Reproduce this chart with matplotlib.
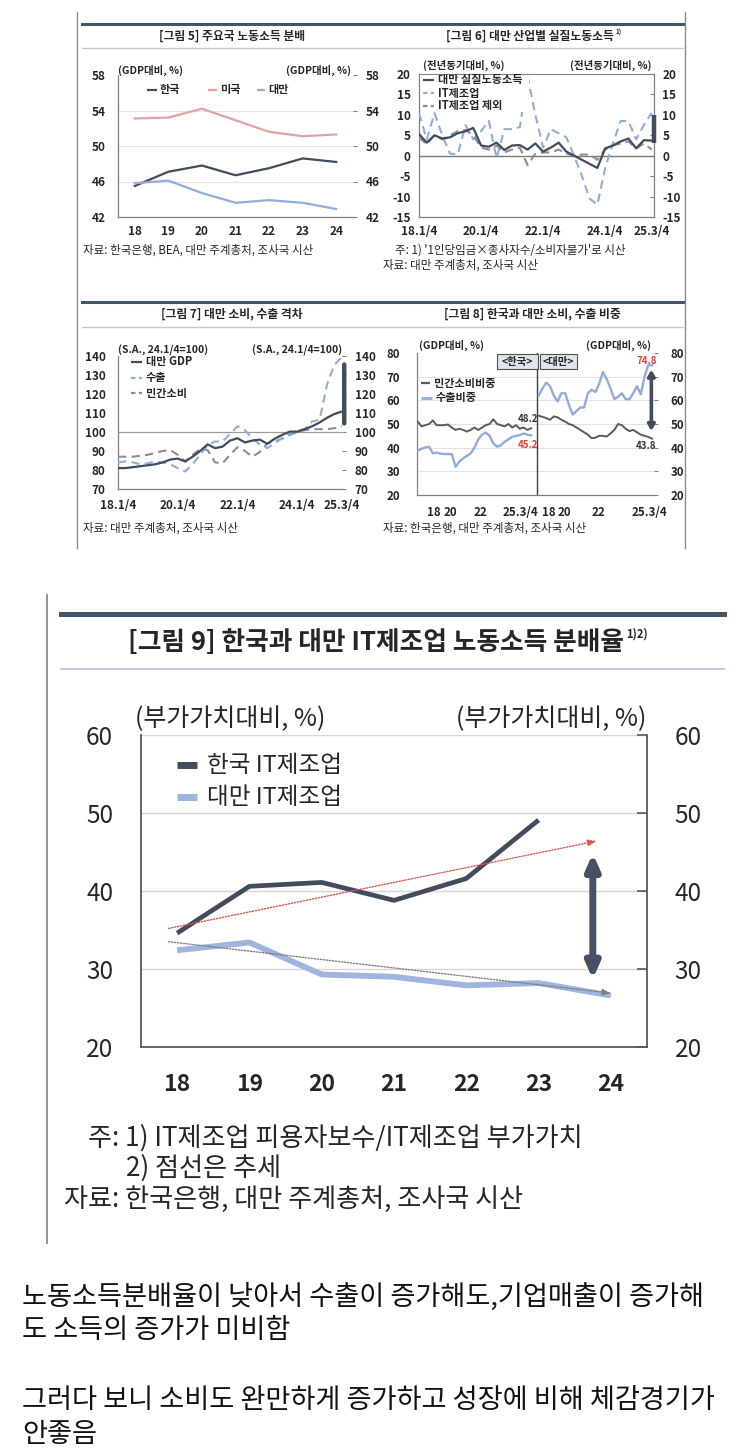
import matplotlib
matplotlib.use('Agg')
import matplotlib.pyplot as plt
from matplotlib.lines import Line2D
from matplotlib.patches import Rectangle
import numpy as np

plt.rcParams['font.family'] = ['Noto Sans CJK KR', 'DejaVu Sans']
plt.rcParams['axes.unicode_minus'] = False

# ---------------- data ----------------
years5 = ['18', '19', '20', '21', '22', '23', '24']
f5_korea = [45.5, 47.1, 47.8, 46.7, 47.5, 48.6, 48.2]
f5_usa = [53.1, 53.2, 54.2, 52.9, 51.6, 51.1, 51.3]
f5_taiwan = [45.8, 46.1, 44.7, 43.6, 43.9, 43.6, 42.9]

quarters = [f"{y}.{q}/4" for y in range(18, 26) for q in range(1, 5)][:31]
qtick_labels = ['18.1/4', '20.1/4', '22.1/4', '24.1/4', '25.3/4']

f6_total = [5.3, 3.2, 5.0, 4.2, 4.5, 5.5, 6.0, 6.8, 2.5, 2.2, 3.2, 1.4, 2.5, 2.6, 1.5, 3.0,
            1.0, 2.0, 3.2, 1.0, 0.0, -1.0, -2.0, -3.0, 1.8, 2.5, 3.5, 4.2, 1.8, 3.8, 3.7]
f6_it = [10.4, 4.0, 10.4, 5.0, 0.5, 0.3, 7.5, 4.0, 6.0, 8.5, -0.6, 6.5, 6.5, 7.0, 19.5, 10.0,
         2.0, 6.5, 5.5, 4.5, 0.0, -5.0, -10.5, -12.0, -3.0, 3.0, 8.5, 8.5, 4.0, 7.5, 10.5]
f6_exit = [4.5, 2.8, 5.0, 4.0, 5.0, 6.0, 6.3, 5.0, 2.0, 1.5, 2.5, 0.8, 1.5, 2.0, -2.3, 0.5,
           0.8, 0.8, 1.5, 0.5, 0.0, 0.3, 0.3, -1.0, 1.5, 2.5, 3.0, 3.5, 1.8, 3.0, 1.5]
f6_gap = [3.0, 10.0]

f7_gdp = [81, 81, 81.5, 82, 82.5, 83, 84, 85.5, 86, 84.5, 87, 90, 93.5, 91.5, 92.3, 95.5,
          96.7, 94.5, 95.5, 96, 93.8, 96.5, 98.5, 100.2, 100.2, 101.5, 103, 105, 107.5, 109.5, 110.8]
f7_export = [84, 84.5, 84, 83, 83.5, 84.5, 84, 83, 81, 79.2, 83, 88, 93, 95, 95, 99,
             103, 101, 96.5, 93.5, 91.5, 94, 97, 99.5, 100.5, 101.5, 105.5, 106.5, 125, 135.5, 139.5]
f7_cons = [87, 87, 87, 87.5, 88, 89, 90, 90.5, 88, 84.5, 88, 91, 90.5, 84, 83.5, 88,
           92, 90, 87, 89.5, 94, 95, 96.5, 98.5, 100, 101, 101.5, 101.5, 101.5, 102, 103]
f7_gap = [104.5, 135.5]

f8_kr_cons = [51, 49, 49.5, 50, 51.5, 49.5, 49.5, 49.5, 49.8, 48.5, 47.5, 48, 47.5, 46.8, 47.5, 48.5,
              47.5, 48.5, 49.5, 50, 52, 50, 49.5, 49, 50, 48.5, 49.5, 48, 48.5, 47.5, 48.2]
f8_kr_exp = [38.7, 39.5, 40.1, 40.4, 37.6, 37.9, 37.5, 37.3, 37.3, 37.3, 31.9, 34.1, 35.5, 36.5, 37.6, 40,
             43.5, 45.5, 46.4, 45, 41.8, 40.4, 41, 42.5, 43.5, 44.6, 45, 45.3, 46, 45.5, 45.2]
f8_tw_cons = [53.5, 53, 52.5, 51.8, 53.2, 52.8, 51.8, 51, 50, 49.5, 48.5, 47.5, 46.5, 45.5, 44, 44.2,
              45, 45, 44.7, 46, 47.5, 50, 49.5, 48, 47, 47.5, 46.5, 45.5, 45, 44.5, 43.8]
f8_tw_exp = [62, 65, 67.5, 66, 62, 59.5, 63, 63, 58, 54, 55.5, 57, 57, 63, 64.5, 63.5,
             67, 72, 69, 65, 60.5, 61.5, 63, 60.5, 60.5, 63, 66, 62.5, 70, 75, 74.8]
f8_tick_labels = ['18', '20', '22', '25.3/4', '18', '20', '22', '25.3/4']
f8_gap = [47, 73]

years9 = ['18', '19', '20', '21', '22', '23', '24']
f9_korea = [34.6, 40.6, 41.1, 38.8, 41.6, 49.1]
f9_taiwan = [32.4, 33.4, 29.3, 29.0, 27.9, 28.2, 26.6]
f9_korea_trend = [35.2, 46.4]
f9_taiwan_trend = [33.5, 26.9]
f9_gap = [28.7, 44.8]

# ---------------- style ----------------
DARK = '#424c5c'
LBLUE = '#93acdb'
PINK = '#e4a3a3'
GRAYD = '#8a8e96'
NAVY = '#44546a'
RED = '#e03c3c'
TXT = '#262626'

W, H = 743, 1456
fig = plt.figure(figsize=(W / 100, H / 100), dpi=100)
fig.patch.set_facecolor('white')


def rect(x0, y0, x1, y1):
    return [x0 / W, 1 - y1 / H, (x1 - x0) / W, (y1 - y0) / H]


def T(x, y, s, **kw):
    kw.setdefault('va', 'center')
    kw.setdefault('color', TXT)
    kw.setdefault('zorder', 5)
    return fig.text(x / W, 1 - y / H, s, **kw)


def L(xs, ys, **kw):
    kw.setdefault('zorder', 4)
    ln = Line2D([x / W for x in xs], [1 - y / H for y in ys], transform=fig.transFigure, **kw)
    fig.add_artist(ln)
    return ln


def leg(x0, x1, y, xt, text, color, ls='-', lw=1.6, fs=8, weight='bold'):
    L([x0, x1], [y, y], color=color, lw=lw, ls=ls, solid_capstyle='butt')
    T(xt, y, text, fontsize=fs, ha='left', fontweight=weight)


def style_small(ax, lpad, rpad, xpad, fs=8.5):
    ax.spines['top'].set_visible(False)
    for s in ['left', 'bottom', 'right']:
        ax.spines[s].set_color('#808080')
        ax.spines[s].set_linewidth(0.9)
    ax.tick_params(axis='y', left=False, right=True, direction='in', length=3, color='#808080',
                   labelleft=True, labelright=True, labelsize=fs, pad=lpad, labelcolor=TXT)
    ax.tick_params(axis='x', length=0, labelsize=fs, pad=xpad, labelcolor=TXT)
    for lab in ax.get_xticklabels() + ax.get_yticklabels():
        lab.set_fontweight('bold')
    ax.set_facecolor('none')


# ---------------- top frame ----------------
L([77, 77], [12, 548], color='#8c8c8c', lw=1)
L([685, 685], [12, 548], color='#8c8c8c', lw=1)
for yt, yb in [(24, 48), (302, 327)]:
    L([82, 683], [yt, yt], color=NAVY, lw=2.2)
    L([82, 683], [yb, yb], color='#c3c9d2', lw=1)

T(232, 36, '[그림 5] 주요국 노동소득 분배', ha='center', fontsize=8.5, fontweight='bold')
T(530, 36, '[그림 6] 대만 산업별 실질노동소득', ha='center', fontsize=8.5, fontweight='bold')
T(615, 32, '1)', ha='left', fontsize=4.5, fontweight='bold')
T(232, 314, '[그림 7] 대만 소비, 수출 격차', ha='center', fontsize=8.5, fontweight='bold')
T(532, 314, '[그림 8] 한국과 대만 소비, 수출 비중', ha='center', fontsize=8.5, fontweight='bold')

# ---------------- Fig 5 ----------------
ax5 = fig.add_axes(rect(118, 75, 353, 217))
ax5.plot(years5, f5_korea, color=DARK, lw=1.6, zorder=3)
ax5.plot(years5, f5_usa, color=PINK, lw=1.6, zorder=3)
ax5.plot(years5, f5_taiwan, color=LBLUE, lw=1.6, zorder=3)
ax5.set_xlim(-0.5, 6.5)
ax5.set_ylim(42, 58)
ax5.set_yticks([42, 46, 50, 54, 58])
for v in [46, 50, 54]:
    ax5.axhline(v, color='#e3e3e3', lw=0.8, zorder=1)
style_small(ax5, 9, 9, 6)
ax5.spines['right'].set_visible(False)
ax5.tick_params(axis='y', right=True, direction='out', length=3, pad=6)
T(118, 70, '(GDP대비, %)', ha='left', fontsize=7.5, fontweight='bold')
T(351, 70, '(GDP대비, %)', ha='right', fontsize=7.5, fontweight='bold')
leg(147, 157, 90, 160, '한국', DARK)
leg(208, 217, 90, 220, '미국', PINK)
leg(257, 265, 90, 268, '대만', LBLUE)
T(83, 250, '자료: 한국은행, BEA, 대만 주계총처, 조사국 시산', ha='left', fontsize=8.3)

# ---------------- Fig 6 ----------------
ax6 = fig.add_axes(rect(419, 74, 654, 217))
x6 = np.arange(len(quarters))
ax6.plot(x6, f6_it, color=LBLUE, lw=1.5, ls=(0, (4, 2.5)), zorder=3)
ax6.plot(x6, f6_exit, color=GRAYD, lw=1.5, ls=(0, (4, 2.5)), zorder=3)
ax6.plot(x6, f6_total, color=DARK, lw=1.6, zorder=4)
ax6.axhline(0, color='#7a7a7a', lw=1.0, zorder=2)
ax6.set_xlim(0, 30.3)
ax6.set_ylim(-15, 20)
ax6.set_yticks(np.arange(-15, 21, 5))
ax6.set_xticks([quarters.index(q) for q in qtick_labels])
ax6.set_xticklabels(qtick_labels)
style_small(ax6, 6, 6, 6)
ax6.spines['top'].set_visible(True)
ax6.spines['top'].set_color('#808080')
ax6.plot([30.3, 30.3], f6_gap, color=DARK, lw=3.2, clip_on=False, zorder=5, solid_capstyle='butt')
T(423, 65, '(전년동기대비, %)', ha='left', fontsize=7.5, fontweight='bold')
T(652, 65, '(전년동기대비, %)', ha='right', fontsize=7.5, fontweight='bold')
fig.add_artist(Rectangle((422 / W, 1 - 112 / H), 107 / W, 37 / H, transform=fig.transFigure,
                         facecolor='white', edgecolor='none', zorder=3))
leg(423, 434, 80, 438, '대만 실질노동소득', DARK)
leg(423, 434, 93, 438, 'IT제조업', LBLUE, ls=(0, (2, 1.5)))
leg(423, 434, 106, 438, 'IT제조업 제외', GRAYD, ls=(0, (2, 1.5)))
T(395, 250, "주: 1) '1인당임금×종사자수/소비자물가'로 시산", ha='left', fontsize=8.3)
T(383, 265, '자료: 대만 주계총처, 조사국 시산', ha='left', fontsize=8.3)

# ---------------- Fig 7 ----------------
ax7 = fig.add_axes(rect(118, 356, 342, 489))
x7 = np.arange(len(quarters))
ax7.plot(x7, f7_cons, color=GRAYD, lw=1.5, ls=(0, (4, 2.5)), zorder=3)
ax7.plot(x7, f7_export, color=LBLUE, lw=1.5, ls=(0, (4, 2.5)), zorder=3)
ax7.plot(x7, f7_gdp, color=DARK, lw=1.6, zorder=4)
ax7.axhline(100, color='#9a9a9a', lw=0.9, zorder=2)
ax7.set_xlim(0, 30)
ax7.set_ylim(70, 140)
ax7.set_yticks(np.arange(70, 141, 10))
ax7.set_xticks([quarters.index(q) for q in qtick_labels])
ax7.set_xticklabels(qtick_labels)
style_small(ax7, 8, 8, 7)
ax7.spines['right'].set_visible(False)
ax7.tick_params(axis='y', right=True, direction='out', length=3, pad=6)
ax7.annotate('', xy=(30.3, f7_gap[0]), xytext=(30.3, f7_gap[1]), annotation_clip=False,
             arrowprops=dict(arrowstyle='-', lw=3.2, color=DARK, shrinkA=0, shrinkB=0))
T(118, 350, '(S.A., 24.1/4=100)', ha='left', fontsize=7.5, fontweight='bold')
T(342, 350, '(S.A., 24.1/4=100)', ha='right', fontsize=7.5, fontweight='bold')
leg(131, 142, 362, 146, '대만 GDP', DARK)
leg(131, 142, 378, 146, '수출', LBLUE, ls=(0, (2, 1.5)))
leg(131, 142, 393, 146, '민간소비', GRAYD, ls=(0, (2, 1.5)))
T(83, 528, '자료: 대만 주계총처, 조사국 시산', ha='left', fontsize=8.3)

# ---------------- Fig 8 ----------------
ax8 = fig.add_axes(rect(417, 353, 654, 495))
xk = np.arange(len(f8_kr_cons))
xt = np.arange(len(f8_tw_cons)) + 32
ax8.plot(xk, f8_kr_cons, color='#5a5a5a', lw=1.4, zorder=3)
ax8.plot(xk, f8_kr_exp, color=LBLUE, lw=1.7, zorder=3)
ax8.plot(xt, f8_tw_cons, color='#5a5a5a', lw=1.4, zorder=3)
ax8.plot(xt, f8_tw_exp, color=LBLUE, lw=1.7, zorder=3)
ax8.axvline(31.5, color='#404040', lw=1.0, zorder=2)
for v in [30, 40, 50, 60, 70]:
    ax8.axhline(v, color='#e3e3e3', lw=0.8, zorder=1)
ax8.set_xlim(-0.2, 62.5)
ax8.set_ylim(20, 80)
ax8.set_yticks(np.arange(20, 81, 10))
ax8.set_xticks([4.2, 8.7, 16.6, 27.3, 34.8, 38.8, 47.9, 61.3])
ax8.set_xticklabels(f8_tick_labels)
style_small(ax8, 9, 9, 8, fs=8.3)
ax8.spines['right'].set_visible(False)
ax8.tick_params(axis='y', right=True, direction='out', length=3, pad=9)
ax8.annotate('', xy=(61.8, f8_gap[0]), xytext=(61.8, f8_gap[1]), annotation_clip=False,
             arrowprops=dict(arrowstyle='<|-|>,head_length=0.35,head_width=0.2', lw=2.6,
                             color=DARK, shrinkA=0, shrinkB=0))
ax8.annotate(f'{f8_kr_cons[-1]}', xy=(30, f8_kr_cons[-1]), xytext=(-2, 7), textcoords='offset points',
             ha='center', va='center', fontsize=7, fontweight='bold', color='#333333')
ax8.annotate(f'{f8_kr_exp[-1]}', xy=(30, f8_kr_exp[-1]), xytext=(-2, -7), textcoords='offset points',
             ha='center', va='center', fontsize=7, fontweight='bold', color=RED)
ax8.annotate(f'{f8_tw_exp[-1]}', xy=(62, f8_tw_exp[-1]), xytext=(-4, 3), textcoords='offset points',
             ha='center', va='center', fontsize=7, fontweight='bold', color=RED)
ax8.annotate(f'{f8_tw_cons[-1]}', xy=(62, f8_tw_cons[-1]), xytext=(-4, -5), textcoords='offset points',
             ha='center', va='center', fontsize=7, fontweight='bold', color='#333333')
for (bx0, bx1, lab) in [(497, 538, '<한국>'), (540, 577, '<대만>')]:
    fig.add_artist(Rectangle((bx0 / W, 1 - 369 / H), (bx1 - bx0) / W, 15 / H, transform=fig.transFigure,
                             facecolor='#dfe5ef', edgecolor='#505050', lw=0.8, zorder=3))
    T((bx0 + bx1) / 2, 362, lab, ha='center', fontsize=7.5, fontweight='bold')
T(419, 345, '(GDP대비, %)', ha='left', fontsize=7.5, fontweight='bold')
T(651, 345, '(GDP대비, %)', ha='right', fontsize=7.5, fontweight='bold')
leg(421, 430, 383, 434, '민간소비비중', '#5a5a5a')
leg(421, 432, 398, 436, '수출비중', LBLUE, lw=2)
T(383, 528, '자료: 한국은행, 대만 주계총처, 조사국 시산', ha='left', fontsize=8.3)

# ---------------- Fig 9 ----------------
L([47, 47], [595, 1243], color='#7f7f7f', lw=1.2)
L([61, 724], [614, 614], color=NAVY, lw=3.6)
L([61, 724], [669, 669], color='#b6c0cf', lw=1.2)
tt = T(128, 642, '[그림 9] 한국과 대만 IT제조업 노동소득 분배율', ha='left', fontsize=18.5, fontweight='bold')
fig.canvas.draw()
bb = tt.get_window_extent(fig.canvas.get_renderer())
fig.text(bb.x1 / W + 2 / W, 1 - 634 / H, '1)2)', ha='left', va='center', fontsize=8,
         fontweight='bold', color=TXT)

ax9 = fig.add_axes(rect(141, 735, 647, 1047))
ax9.plot(years9[:len(f9_korea)], f9_korea, color=DARK, lw=3.4, zorder=4, solid_capstyle='butt')
ax9.plot(years9, f9_taiwan, color='#9fb4de', lw=4.2, zorder=3, solid_capstyle='butt')
ax9.set_xlim(-0.5, 6.5)
ax9.set_ylim(20, 60)
ax9.set_yticks([20, 30, 40, 50, 60])
for v in [30, 40, 50, 60]:
    ax9.axhline(v, color='#d6d6d6', lw=1.0, zorder=1)
ax9.annotate('', xy=(5.8, f9_korea_trend[1]), xytext=(-0.12, f9_korea_trend[0]),
             arrowprops=dict(arrowstyle='-|>,head_length=0.5,head_width=0.2', lw=1.0,
                             color='#d9584f', ls=(0, (1, 1.2)), shrinkA=0, shrinkB=0), zorder=5)
ax9.annotate('', xy=(6.0, f9_taiwan_trend[1]), xytext=(-0.12, f9_taiwan_trend[0]),
             arrowprops=dict(arrowstyle='-|>,head_length=0.5,head_width=0.2', lw=1.0,
                             color='#808080', ls=(0, (1, 1.2)), shrinkA=0, shrinkB=0), zorder=5)
ax9.annotate('', xy=(5.75, f9_gap[0]), xytext=(5.75, f9_gap[1]),
             arrowprops=dict(arrowstyle='<|-|>,head_length=0.9,head_width=0.4', lw=5,
                             color='#465063', shrinkA=0, shrinkB=0), zorder=6)
ax9.spines['top'].set_visible(False)
for s in ['left', 'bottom', 'right']:
    ax9.spines[s].set_color('#595959')
    ax9.spines[s].set_linewidth(1.3)
ax9.tick_params(axis='y', left=False, right=True, direction='in', length=7, width=1.2, color='#595959',
                labelleft=True, labelright=True, labelsize=17.5, pad=20, labelcolor=TXT)
ax9.tick_params(axis='x', length=0, labelsize=16.5, pad=19, labelcolor=TXT)
for lab in ax9.get_xticklabels():
    lab.set_fontweight('bold')
ax9.set_facecolor('none')
T(135, 719, '(부가가치대비, %)', ha='left', fontsize=18)
T(646, 719, '(부가가치대비, %)', ha='right', fontsize=18)
leg(177, 197, 765, 207, '한국 IT제조업', DARK, lw=5, fs=17, weight='normal')
leg(177, 197, 797, 207, '대만 IT제조업', '#9fb4de', lw=5, fs=17, weight='normal')
T(88, 1138, '주: 1) IT제조업 피용자보수/IT제조업 부가가치', ha='left', fontsize=18.8)
T(126, 1168, '2) 점선은 추세', ha='left', fontsize=18.8)
T(64, 1199, '자료: 한국은행, 대만 주계총처, 조사국 시산', ha='left', fontsize=18.8)

# ---------------- bottom text ----------------
BT = dict(ha='left', fontsize=19.6, color='#111111')
T(22, 1298, '노동소득분배율이 낮아서 수출이 증가해도,기업매출이 증가해', **BT)
T(22, 1331, '도 소득의 증가가 미비함', **BT)
T(22, 1401, '그러다 보니 소비도 완만하게 증가하고 성장에 비해 체감경기가', **BT)
T(22, 1434, '안좋음', **BT)

fig.savefig('out.png', dpi=100, facecolor='white')
